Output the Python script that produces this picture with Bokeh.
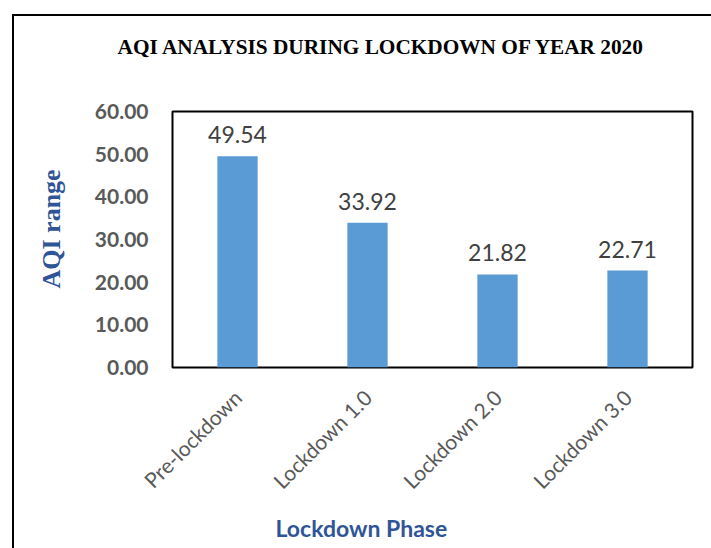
import math
from bokeh.plotting import figure
from bokeh.models import (ColumnDataSource, FactorRange, Range1d, FixedTicker,
                          PrintfTickFormatter, Title)
from bokeh.core.properties import value
from bokeh.embed import file_html
from bokeh.resources import INLINE

# ---- data ----
phases = ["Pre-lockdown", "Lockdown 1.0", "Lockdown 2.0", "Lockdown 3.0"]
aqi = [49.54, 33.92, 21.82, 22.71]
aqi_labels = ["49.54", "33.92", "21.82", "22.71"]
y_ticks = [0, 10, 20, 30, 40, 50, 60]

title_text = "AQI ANALYSIS DURING LOCKDOWN OF YEAR 2020"
y_title = "AQI range"
x_title = "Lockdown Phase"

source = ColumnDataSource(dict(phase=phases, aqi=aqi, lab=aqi_labels))

W, H = 711, 548
p = figure(width=W, height=H, output_backend="svg", toolbar_location=None,
           x_range=FactorRange(factors=phases, range_padding=0),
           y_range=Range1d(0, 60),
           min_border_left=172, min_border_right=19,
           min_border_top=111, min_border_bottom=181)

p.outline_line_color = "black"
p.outline_line_width = 2
p.grid.visible = False
p.background_fill_color = "white"
p.border_fill_color = None
# outer chart frame (left and top edges visible, like the cropped reference)
p.styles = {"box-shadow": "inset 12px 14px 0 0 #ffffff, inset 14px 16px 0 0 #000000",
            "background-color": "#ffffff"}

p.vbar(x="phase", top="aqi", width=0.31, source=source,
       fill_color="#5B9BD5", line_color=None)

p.text(x="phase", y="aqi", text="lab", source=source,
       text_align="center", text_baseline="bottom", y_offset=-13,
       text_font=value("Lato"), text_font_size="23px", text_color="#404040")

# y axis
ya = p.yaxis[0]
ya.ticker = FixedTicker(ticks=y_ticks)
ya.formatter = PrintfTickFormatter(format="%.2f")
ya.axis_line_color = None
ya.major_tick_line_color = None
ya.minor_tick_line_color = None
ya.major_tick_out = 0
ya.major_tick_in = 0
ya.major_label_standoff = 24
ya.major_label_text_font = "Lato"
ya.major_label_text_font_style = "bold"
ya.major_label_text_font_size = "21px"
ya.major_label_text_color = "#595959"

# x axis
xa = p.xaxis[0]
xa.axis_line_color = None
xa.major_tick_line_color = None
xa.minor_tick_line_color = None
xa.major_tick_out = 0
xa.major_tick_in = 0
xa.major_label_orientation = math.pi / 4
xa.major_label_standoff = 26
xa.major_label_text_font = "Lato"
xa.major_label_text_font_size = "21px"
xa.major_label_text_color = "#595959"


def set_standoff(t, s):
    if "standoff" in t.properties():
        t.standoff = s


# chart title
p.title.text = title_text
p.title.align = "left"
p.title.offset = -55
p.title.text_font = "Liberation Serif"
p.title.text_font_style = "bold"
p.title.text_font_size = "21.3px"
p.title.text_color = "black"
set_standoff(p.title, 10)

# empty spacer panel between the title and the plot box
spacer = Title(text="\u00a0", text_font_size="10px")
set_standoff(spacer, 35)
p.add_layout(spacer, "above")

# y axis title
yt = Title(text=y_title, align="left", offset=79,
           text_font="Liberation Serif", text_font_style="bold",
           text_font_size="26px", text_color="#2F5597")
set_standoff(yt, 52)
p.add_layout(yt, "left")

# x axis title
xt = Title(text=x_title, align="left", offset=103,
           text_font="Lato", text_font_style="bold",
           text_font_size="23px", text_color="#2F5597")
set_standoff(xt, 12)
p.add_layout(xt, "below")

open("out.html", "w").write(file_html(p, INLINE))
